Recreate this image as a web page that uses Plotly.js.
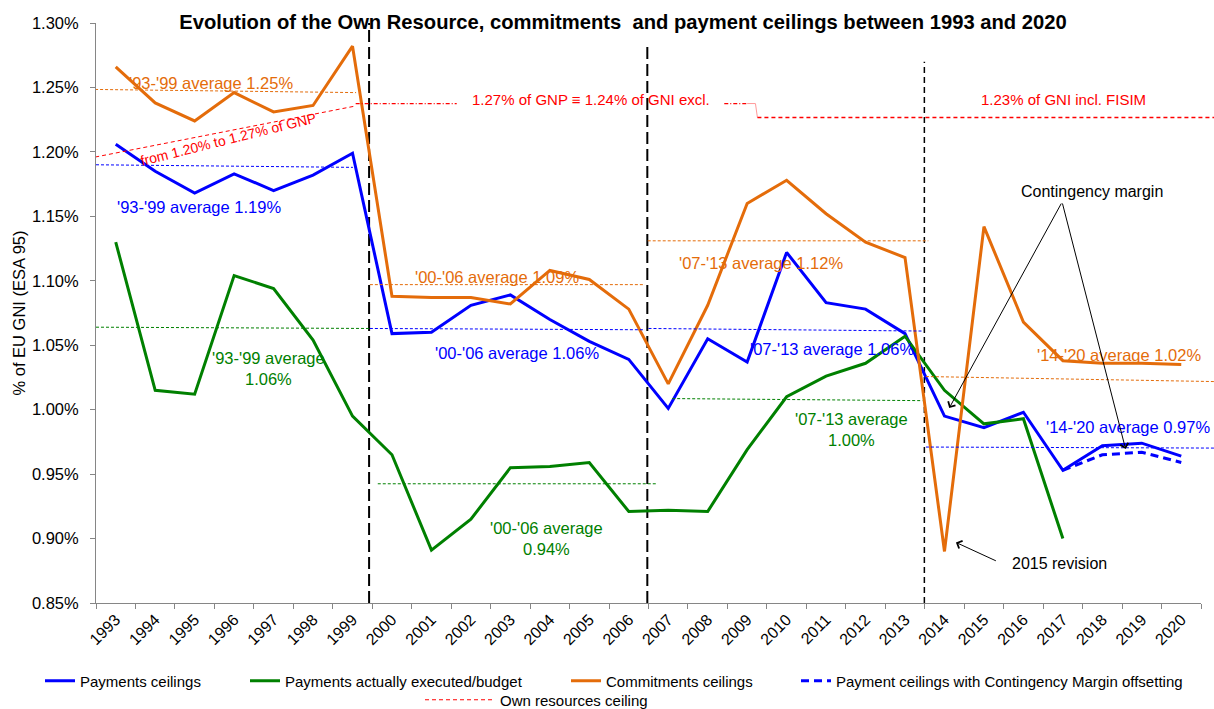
<!DOCTYPE html>
<html><head><meta charset="utf-8">
<script src="https://cdn.plot.ly/plotly-3.0.1.min.js"></script>
<style>html,body{margin:0;padding:0;background:#fff}#chart{width:1214px;height:709px}</style>
</head><body><div id="chart"></div>
<script>
// ---------- DATA ----------
const years = [1993,1994,1995,1996,1997,1998,1999,2000,2001,2002,2003,2004,2005,2006,2007,2008,2009,2010,2011,2012,2013,2014,2015,2016,2017,2018,2019,2020];
const yearLabels = years.map(String);
const yTickVals = [0.85,0.90,0.95,1.00,1.05,1.10,1.15,1.20,1.25,1.30];
const yTickLabels = ['0.85%','0.90%','0.95%','1.00%','1.05%','1.10%','1.15%','1.20%','1.25%','1.30%'];
const paymentsCeilings = [1.206,1.185,1.168,1.183,1.170,1.182,1.199,1.059,1.060,1.081,1.089,1.070,1.053,1.039,1.001,1.055,1.037,1.122,1.083,1.078,1.059,0.995,0.986,0.998,0.953,0.972,0.974,0.964];
const execYears = [1993,1994,1995,1996,1997,1998,1999,2000,2001,2002,2003,2004,2005,2006,2007,2008,2009,2010,2011,2012,2013,2014,2015,2016,2017];
const paymentsExecuted = [1.130,1.015,1.012,1.104,1.094,1.054,0.995,0.965,0.891,0.915,0.955,0.956,0.959,0.921,0.922,0.921,0.969,1.010,1.026,1.036,1.057,1.015,0.989,0.993,0.900];
const commitmentsCeilings = [1.266,1.238,1.224,1.246,1.231,1.236,1.282,1.088,1.087,1.087,1.082,1.108,1.101,1.078,1.020,1.081,1.160,1.178,1.152,1.130,1.118,0.890,1.142,1.068,1.038,1.036,1.036,1.035];
const contYears = [2017,2018,2019,2020];
const contOffsetCeilings = [0.953,0.965,0.967,0.959];

// Own resources ceiling (segments)
const orRiseX = [1992.48,1999.06];     const orRiseY = [1.196,1.2355];
const orGnpX  = [1999.08,2001.64,null,2008.42,2009.0]; const orGnpY = [1.2375,1.2375,null,1.2375,1.2375];
const orStepX = [2009.0,2009.21,2009.26]; const orStepY = [1.2375,1.2375,1.2267];
const orGniX  = [2009.26,2020.83];     const orGniY = [1.2267,1.2267];

// Period averages (start/end)
const avgX0 = [1992.35,1992.5,1992.5, 1999.44,1999.44,1999.64, 2006.48,2006.5,2007.1, 2013.53,2013.53];
const avgX1 = [1999.09,1999.01,1999.42, 2006.41,2006.41,2006.7, 2013.59,2013.44,2013.44, 2020.83,2020.83];
const avgY0 = [1.2485,1.190,1.064, 1.097,1.063,0.9425, 1.131,1.063,1.0086, 1.0257,0.971];
const avgY1 = [1.246,1.188,1.063, 1.097,1.062,0.9425, 1.131,1.061,1.007, 1.0218,0.9702];
const avgSeries = ['c','p','e', 'c','p','e', 'c','p','e', 'c','p'];

// MFF period boundaries
const periodX = [1999.42,2006.47,2013.49];
const periodTop = [1.30,1.285,1.27];

// ---------- STYLE ----------
const FONT = 'Liberation Sans, Arial, sans-serif';
const BLUE='#0000FF', GREEN='#008000', ORANGE='#E46C0A', RED='#FF0000';
const colorOf = {p:BLUE, e:GREEN, c:ORANGE};
const W=1214, H=709, L=96, R=0, T=22.8, B=105.7;
const axisEndPx = 1201;
const plotW = W-L-R;
const xDomEnd = (axisEndPx-L)/plotW;
const pxPerYear = (axisEndPx-L)/years.length;
const x2Max = 1992.5 + plotW/pxPerYear;

const traces = [];
for (let i=0;i<avgX0.length;i++){
  traces.push({x:[avgX0[i],avgX1[i]], y:[avgY0[i],avgY1[i]], xaxis:'x2', yaxis:'y', mode:'lines',
    line:{color:colorOf[avgSeries[i]], width:1, dash:'3px,2px'}, showlegend:false, hoverinfo:'skip'});
}
traces.push({x:orRiseX, y:orRiseY, xaxis:'x2', mode:'lines', name:'Own resources ceiling', legend:'legend5',
  line:{color:RED, width:1, dash:'4px,3px'}});
traces.push({x:orGnpX, y:orGnpY, xaxis:'x2', mode:'lines', showlegend:false, connectgaps:false,
  line:{color:RED, width:1.2, dash:'4px,2px,1px,2px'}});
traces.push({x:orStepX, y:orStepY, xaxis:'x2', mode:'lines', showlegend:false,
  line:{color:'#FF9A9A', width:1}});
traces.push({x:orGniX, y:orGniY, xaxis:'x2', mode:'lines', showlegend:false,
  line:{color:RED, width:1.5, dash:'4px,3px'}});
const periodDash = ['12px,5px','12px,5px','6px,4px'];
const periodW = [2,2,1.5];
for (let i=0;i<periodX.length;i++){
  traces.push({x:[periodX[i],periodX[i]], y:[0.85,periodTop[i]], mode:'lines', showlegend:false, hoverinfo:'skip',
    line:{color:'#000', width:periodW[i], dash:periodDash[i]}});
}
traces.push({x:years, y:paymentsCeilings, mode:'lines', name:'Payments ceilings', legend:'legend', line:{color:BLUE,width:3}});
traces.push({x:execYears, y:paymentsExecuted, mode:'lines', name:'Payments actually executed/budget', legend:'legend2', line:{color:GREEN,width:3}});
traces.push({x:years, y:commitmentsCeilings, mode:'lines', name:'Commitments ceilings', legend:'legend3', line:{color:ORANGE,width:3}});
traces.push({x:contYears, y:contOffsetCeilings, mode:'lines', name:'Payment ceilings with Contingency Margin offsetting', legend:'legend4', line:{color:BLUE,width:3,dash:'8px,5px'}});

function lab(text,x,y,color,extra){
  return Object.assign({text:text, x:x, y:y, xref:'x', yref:'y', showarrow:false,
    font:{family:FONT, size:16.5, color:color}, align:'center'}, extra||{});
}
function arrow(x,y,ax,ay){
  return {text:'', x:x, y:y, ax:ax, ay:ay, xref:'x', yref:'y', axref:'x', ayref:'y', showarrow:true,
    arrowhead:4, arrowsize:1.6, arrowwidth:1, arrowcolor:'#000', standoff:0, startstandoff:0};
}
const annotations = [
  lab("'93-'99 average 1.25%",1995.41,1.2533,ORANGE),
  lab("from 1.20% to 1.27% of GNP",1995.87,1.2099,RED,{textangle:-14, font:{family:FONT,size:14,color:RED}}),
  lab("'93-'99 average 1.19%",1995.11,1.1572,BLUE),
  lab("1.27% of GNP \u2261 1.24% of GNI excl.",2005.04,1.2407,RED,{font:{family:FONT,size:15,color:RED}}),
  lab("1.23% of GNI incl. FISIM",2017.01,1.2407,RED,{font:{family:FONT,size:15,color:RED}}),
  lab("Contingency margin",2017.74,1.1696,'#000',{font:{family:FONT,size:16,color:'#000'}}),
  lab("2015 revision",2016.91,0.8805,'#000',{font:{family:FONT,size:16,color:'#000'}}),
  lab("'00-'06 average 1.09%",2002.65,1.1027,ORANGE),
  lab("'00-'06 average 1.06%",2003.16,1.0438,BLUE),
  lab("'00-'06 average<br>0.94%",2003.91,0.9001,GREEN),
  lab("'93-'99 average<br>1.06%",1996.86,1.0318,GREEN),
  lab("'07-'13 average 1.12%",2009.36,1.114,ORANGE),
  lab("'07-'13 average 1.06%",2011.16,1.0469,BLUE),
  lab("'07-'13 average<br>1.00%",2011.64,0.9846,GREEN),
  lab("'14-'20 average 1.02%",2018.41,1.0425,ORANGE),
  lab("'14-'20 average 0.97%",2018.65,0.9869,BLUE),
  arrow(2014.12,1.0012,2016.98,1.1611),
  arrow(2018.59,0.9694,2016.98,1.1611),
  arrow(2014.29,0.897,2015.34,0.8822)
];

function legendAt(px,py,iw){
  return {x:px/W, y:1-py/H, xref:'container', yref:'container', xanchor:'left', yanchor:'middle',
    orientation:'h', bgcolor:'rgba(0,0,0,0)', borderwidth:0, itemwidth:iw||30,
    font:{family:FONT,size:15,color:'#000'}};
}

const layout = {
  width:W, height:H, paper_bgcolor:'#fff', plot_bgcolor:'rgba(0,0,0,0)',
  margin:{l:L, r:R, t:T, b:B, pad:0},
  font:{family:FONT, color:'#000'},
  title:{text:'<b>Evolution of the Own Resource, commitments  and payment ceilings between 1993 and 2020</b>',
    x:623/W, xref:'container', xanchor:'center', y:1-22/H, yref:'container', yanchor:'middle',
    font:{family:FONT, size:20.2, color:'#000'}},
  xaxis:{domain:[0,xDomEnd], range:[1992.5,2020.5], tickvals:years, ticktext:yearLabels, ticks:'',
    tickangle:-45, tickfont:{family:FONT,size:16,color:'#000'}, showline:true, linecolor:'#868686', linewidth:1,
    showgrid:false, zeroline:false, anchor:'y',
    minor:{tickvals:years.map(v=>v-0.5).concat([2020.5]), ticks:'outside', ticklen:5, tickcolor:'#868686', tickwidth:1, showgrid:false}},
  xaxis2:{domain:[0,1], range:[1992.5,x2Max], visible:false, anchor:'y', fixedrange:true},
  yaxis:{range:[0.85,1.30], tickmode:'array', tickvals:yTickVals, ticktext:yTickLabels,
    ticks:'outside', ticklen:5, tickcolor:'#868686', showline:true, linecolor:'#868686', linewidth:1,
    showgrid:false, zeroline:false, tickfont:{family:FONT,size:16.5,color:'#000'}, ticklabelstandoff:8,
    title:{text:'% of EU GNI (ESA 95)', font:{family:FONT,size:16.5,color:'#000'}, standoff:2}, anchor:'x'},
  legend:legendAt(40,681),
  legend2:legendAt(245,681),
  legend3:legendAt(566,681),
  legend4:legendAt(796,681),
  legend5:legendAt(420,700,70),
  annotations:annotations,
  showlegend:true
};
Plotly.newPlot('chart', traces, layout, {staticPlot:true, displayModeBar:false});
</script></body></html>
